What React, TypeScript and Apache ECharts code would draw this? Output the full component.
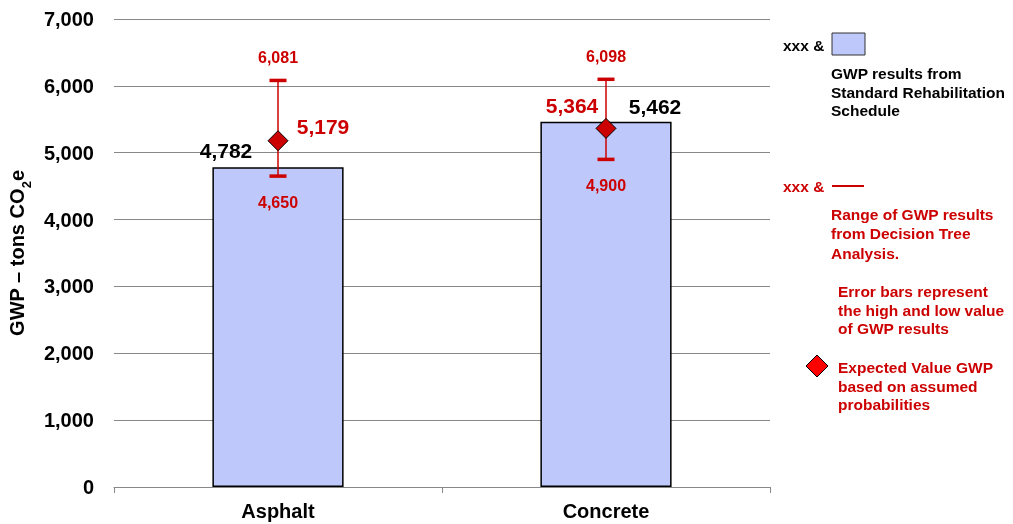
import React, { useEffect, useRef } from "react";
import * as echarts from "echarts";

const categories = ["Asphalt", "Concrete"];
const standardValues = [4782, 5462];
const highValues = [6081, 6098];
const lowValues = [4650, 4900];
const expectedValues = [5179, 5364];
const yTicks = [0, 1000, 2000, 3000, 4000, 5000, 6000, 7000];

const FONT = '"Liberation Sans", Arial, sans-serif';
const RED = "#CC0000";
const BAR = "#BEC8FA";
const fmt = (v: number) => v.toLocaleString("en-US");

export default function App() {
  const ref = useRef<HTMLDivElement>(null);
  useEffect(() => {
    if (!ref.current) return;
    const chart = echarts.init(ref.current, null, { renderer: "svg" });
    const barLabelOffsets = [
      [-52, -17],
      [49, -15],
    ];
    const evLabelOffsets = [
      [45, -14],
      [-34, -23],
    ];
    const legendText = (text: string, x: number, y: number, color: string) => ({
      type: "text",
      x,
      y,
      style: {
        text,
        fill: color,
        font: `bold 15.5px ${FONT}`,
        textAlign: "left",
        textVerticalAlign: "middle",
      },
    });
    chart.setOption({
      animation: false,
      textStyle: { fontFamily: FONT },
      grid: {
        left: 114,
        right: 243,
        top: 19,
        bottom: 37,
        containLabel: false,
        outerBoundsMode: "none",
      },
      xAxis: {
        type: "category",
        data: categories,
        axisLine: { lineStyle: { color: "#888888", width: 1 } },
        axisTick: { show: true, length: 6, lineStyle: { color: "#888888" } },
        axisLabel: {
          color: "#000",
          fontWeight: "bold",
          fontSize: 20,
          fontFamily: FONT,
          margin: 14,
        },
      },
      yAxis: {
        type: "value",
        min: 0,
        max: 7000,
        interval: 1000,
        axisLine: { show: false },
        axisTick: { show: false },
        splitLine: { lineStyle: { color: "#888888", width: 1 } },
        axisLabel: {
          color: "#000",
          fontWeight: "bold",
          fontSize: 20,
          fontFamily: FONT,
          margin: 20,
          formatter: (v: number) => (yTicks.includes(v) ? fmt(v) : ""),
        },
        name: "{a|GWP – tons CO}{b|2}{a|e}",
        nameLocation: "middle",
        nameRotate: 90,
        nameGap: 81,
        nameTextStyle: {
          rich: {
            a: { fontSize: 20, fontWeight: "bold", color: "#000", fontFamily: FONT, lineHeight: 24 },
            b: {
              fontSize: 13,
              fontWeight: "bold",
              color: "#000",
              fontFamily: FONT,
              lineHeight: 24,
              verticalAlign: "bottom",
              padding: [0, 0, -4, 0],
            },
          },
        },
      },
      series: [
        {
          type: "bar",
          barWidth: "40%",
          data: standardValues.map((v, i) => ({
            value: v,
            label: {
              show: true,
              position: ["50%", 0],
              align: "center",
              verticalAlign: "middle",
              offset: barLabelOffsets[i],
              formatter: () => fmt(v),
              color: "#000",
              fontWeight: "bold",
              fontSize: 21,
              fontFamily: FONT,
            },
          })),
          itemStyle: { color: BAR, borderColor: "#000", borderWidth: 1.5 },
          z: 1,
        },
        {
          type: "custom",
          data: categories.map((_, i) => [i, highValues[i], lowValues[i]]),
          z: 3,
          renderItem: (params: any, api: any) => {
            const hi = api.coord([api.value(0), api.value(1)]);
            const lo = api.coord([api.value(0), api.value(2)]);
            const x = hi[0];
            return {
              type: "group",
              children: [
                {
                  type: "line",
                  shape: { x1: x, y1: hi[1], x2: x, y2: lo[1] },
                  style: { stroke: RED, lineWidth: 1.5 },
                },
                {
                  type: "line",
                  shape: { x1: x - 8.5, y1: hi[1], x2: x + 8.5, y2: hi[1] },
                  style: { stroke: RED, lineWidth: 3.5 },
                },
                {
                  type: "line",
                  shape: { x1: x - 8.5, y1: lo[1], x2: x + 8.5, y2: lo[1] },
                  style: { stroke: RED, lineWidth: 3.5 },
                },
                {
                  type: "text",
                  x,
                  y: hi[1] - 23,
                  style: {
                    text: fmt(api.value(1)),
                    fill: RED,
                    font: `bold 16px ${FONT}`,
                    textAlign: "center",
                    textVerticalAlign: "middle",
                  },
                },
                {
                  type: "text",
                  x,
                  y: lo[1] + 26,
                  style: {
                    text: fmt(api.value(2)),
                    fill: RED,
                    font: `bold 16px ${FONT}`,
                    textAlign: "center",
                    textVerticalAlign: "middle",
                  },
                },
              ],
            };
          },
        },
        {
          type: "scatter",
          symbol: "diamond",
          symbolSize: 20,
          z: 5,
          zlevel: 0,
          itemStyle: { color: RED, borderColor: "#000", borderWidth: 1, opacity: 1 },
          data: expectedValues.map((v, i) => ({
            value: [i, v],
            label: {
              show: true,
              position: "inside",
              offset: evLabelOffsets[i],
              formatter: () => fmt(v),
              color: RED,
              fontWeight: "bold",
              fontSize: 21,
              fontFamily: FONT,
            },
          })),
        },
      ],
      graphic: [
        legendText("xxx &", 783, 45, "#000"),
        {
          type: "rect",
          shape: { x: 832, y: 33, width: 33, height: 22 },
          style: { fill: BAR, stroke: "#333", lineWidth: 1 },
        },
        legendText("GWP results from", 831, 73, "#000"),
        legendText("Standard Rehabilitation", 831, 92, "#000"),
        legendText("Schedule", 831, 110, "#000"),
        legendText("xxx &", 783, 186, RED),
        {
          type: "line",
          shape: { x1: 832, y1: 186, x2: 864, y2: 186 },
          style: { stroke: RED, lineWidth: 2 },
        },
        legendText("Range of GWP results", 831, 214, RED),
        legendText("from Decision Tree", 831, 233, RED),
        legendText("Analysis.", 831, 253, RED),
        legendText("Error bars represent", 838, 291, RED),
        legendText("the high and low value", 838, 310, RED),
        legendText("of GWP results", 838, 328, RED),
        {
          type: "polygon",
          shape: {
            points: [
              [817, 355],
              [828, 366],
              [817, 377],
              [806, 366],
            ],
          },
          style: { fill: "#FF0000", stroke: "#000", lineWidth: 1 },
        },
        legendText("Expected Value GWP", 838, 367, RED),
        legendText("based on assumed", 838, 386, RED),
        legendText("probabilities", 838, 404, RED),
      ],
    });
    return () => chart.dispose();
  }, []);
  return (
    <div
      ref={ref}
      style={{ position: "fixed", left: 0, top: 0, width: 1013, height: 524 }}
    />
  );
}
